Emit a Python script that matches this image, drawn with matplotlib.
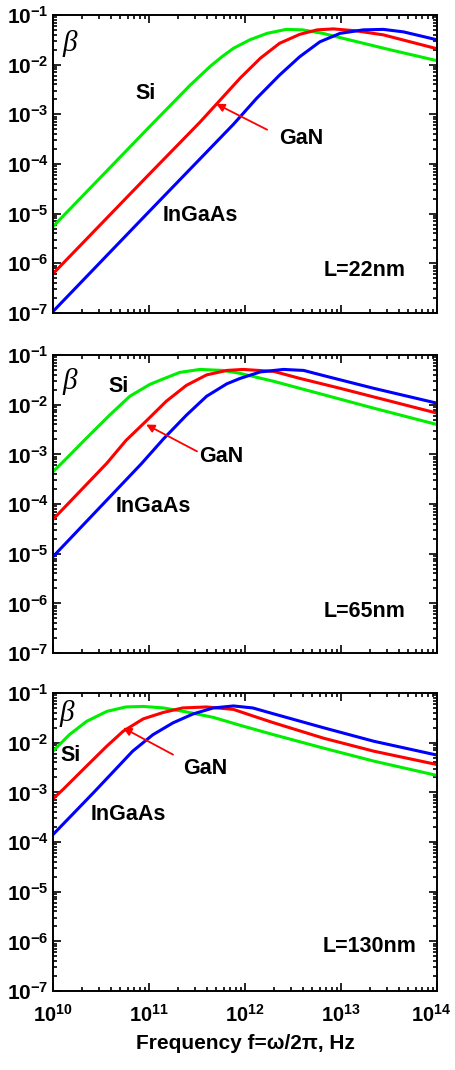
import numpy as np
import matplotlib
matplotlib.use("Agg")
import matplotlib.pyplot as plt
from matplotlib.ticker import LogLocator, FuncFormatter, NullFormatter
from matplotlib.transforms import ScaledTranslation

plt.rcParams['font.family'] = ['Liberation Sans', 'DejaVu Sans']
plt.rcParams['font.weight'] = 'bold'
plt.rcParams['mathtext.fontset'] = 'custom'
plt.rcParams['mathtext.rm'] = 'Liberation Sans:bold'
plt.rcParams['mathtext.bf'] = 'Liberation Sans:bold'
plt.rcParams['mathtext.it'] = 'Liberation Sans:bold:italic'

# decades shown on the axes
x_decades = [10, 11, 12, 13, 14]
y_decades = [-7, -6, -5, -4, -3, -2, -1]

# curves as log10(f), log10(beta)
# L = 22 nm
si22_lf = [10.0, 10.49, 10.97, 11.43, 11.64, 11.76, 11.88, 12.05, 12.23, 12.43, 12.60, 12.81, 13.02, 13.51, 14.0]
si22_lb = [-5.26, -4.28, -3.32, -2.41, -2.03, -1.84, -1.67, -1.50, -1.37, -1.29, -1.30, -1.37, -1.47, -1.70, -1.92]
gan22_lf = [10.0, 10.97, 11.53, 11.70, 11.95, 12.16, 12.36, 12.57, 12.75, 12.92, 13.16, 13.44, 14.0]
gan22_lb = [-6.21, -4.27, -3.16, -2.80, -2.27, -1.87, -1.57, -1.39, -1.30, -1.28, -1.32, -1.40, -1.68]
ing22_lf = [10.0, 10.97, 11.88, 12.12, 12.36, 12.57, 12.78, 12.99, 13.23, 13.44, 13.65, 14.0]
ing22_lb = [-6.97, -5.02, -3.20, -2.68, -2.21, -1.84, -1.54, -1.37, -1.30, -1.29, -1.34, -1.50]

# L = 65 nm
si65_lf = [10.0, 10.10, 10.35, 10.59, 10.80, 11.01, 11.15, 11.32, 11.53, 11.77, 11.95, 12.30, 12.82, 13.34, 14.0]
si65_lb = [-3.35, -3.16, -2.67, -2.21, -1.83, -1.59, -1.48, -1.35, -1.29, -1.31, -1.37, -1.53, -1.80, -2.07, -2.40]
gan65_lf = [10.0, 10.56, 10.76, 10.97, 11.18, 11.39, 11.60, 11.81, 11.98, 12.30, 12.57, 12.99, 14.0]
gan65_lb = [-4.31, -3.18, -2.72, -2.33, -1.93, -1.61, -1.40, -1.31, -1.29, -1.33, -1.47, -1.67, -2.17]
ing65_lf = [10.0, 10.92, 11.15, 11.39, 11.60, 11.81, 11.95, 12.16, 12.40, 12.61, 12.85, 13.34, 14.0]
ing65_lb = [-5.06, -3.19, -2.69, -2.21, -1.83, -1.58, -1.47, -1.34, -1.29, -1.31, -1.43, -1.67, -1.97]

# L = 130 nm
si130_lf = [10.0, 10.17, 10.35, 10.56, 10.76, 10.94, 11.15, 11.39, 11.67, 11.95, 12.30, 12.82, 13.34, 14.0]
si130_lb = [-2.17, -1.84, -1.57, -1.37, -1.28, -1.27, -1.30, -1.38, -1.49, -1.65, -1.84, -2.11, -2.37, -2.66]
gan130_lf = [10.0, 10.10, 10.35, 10.56, 10.73, 10.94, 11.15, 11.35, 11.60, 11.88, 12.08, 12.30, 12.82, 13.34, 14.0]
gan130_lb = [-3.13, -2.95, -2.47, -2.07, -1.77, -1.52, -1.39, -1.30, -1.28, -1.33, -1.46, -1.60, -1.91, -2.17, -2.44]
ing130_lf = [10.0, 10.42, 10.63, 10.83, 11.04, 11.25, 11.46, 11.67, 11.88, 12.08, 12.30, 12.82, 13.34, 14.0]
ing130_lb = [-3.85, -3.01, -2.58, -2.17, -1.84, -1.60, -1.42, -1.30, -1.26, -1.30, -1.42, -1.70, -1.97, -2.25]

panels = [
    dict(name="L=22nm", si=(si22_lf, si22_lb), gan=(gan22_lf, gan22_lb), ing=(ing22_lf, ing22_lb),
         si_txt=(10.96, -2.58), gan_txt=(12.59, -3.48), ing_txt=(11.53, -5.03),
         arr_tail=(12.23, -3.31), arr_head=(11.70, -2.79), l_txt=(13.25, -6.15), beta=(10.17, -1.57)),
    dict(name="L=65nm", si=(si65_lf, si65_lb), gan=(gan65_lf, gan65_lb), ing=(ing65_lf, ing65_lb),
         si_txt=(10.68, -1.63), gan_txt=(11.75, -3.04), ing_txt=(11.04, -4.04),
         arr_tail=(11.50, -2.94), arr_head=(10.97, -2.40), l_txt=(13.25, -6.16), beta=(10.17, -1.53)),
    dict(name="L=130nm", si=(si130_lf, si130_lb), gan=(gan130_lf, gan130_lb), ing=(ing130_lf, ing130_lb),
         si_txt=(10.18, -2.25), gan_txt=(11.59, -2.52), ing_txt=(10.78, -3.45),
         arr_tail=(11.25, -2.24), arr_head=(10.73, -1.70), l_txt=(13.30, -6.11), beta=(10.14, -1.42)),
]

fig = plt.figure(figsize=(4.55, 10.7), dpi=100)
bottoms = [0.7075, 0.3897, 0.0738]


def p10(v):
    return 10.0 ** np.asarray(v, dtype=float)


def expfmt(v, pos):
    return r'$\mathbf{10^{%d}}$' % int(round(np.log10(v)))


for i, p in enumerate(panels):
    ax = fig.add_axes([0.1165, bottoms[i], 0.844, 0.2785])
    for key, col in (("si", "#00ee00"), ("gan", "#ff0000"), ("ing", "#0000ff")):
        lf, lb = p[key]
        ax.plot(p10(lf), p10(lb), color=col, lw=2.2, solid_joinstyle='round')
    ax.set_xscale('log')
    ax.set_yscale('log')
    ax.set_xticks(p10(x_decades))
    ax.set_yticks(p10(y_decades))
    ax.set_xlim(1e10, 1e14)
    ax.set_ylim(1e-7, 1e-1)
    ax.xaxis.set_minor_locator(LogLocator(base=10, subs=np.arange(2, 10), numticks=20))
    ax.yaxis.set_minor_locator(LogLocator(base=10, subs=np.arange(2, 10), numticks=20))
    ax.yaxis.set_major_formatter(FuncFormatter(expfmt))
    ax.xaxis.set_minor_formatter(NullFormatter())
    ax.yaxis.set_minor_formatter(NullFormatter())
    if i == 2:
        ax.xaxis.set_major_formatter(FuncFormatter(expfmt))
    else:
        ax.xaxis.set_major_formatter(NullFormatter())
    ax.tick_params(which='both', direction='in', top=True, right=True, width=1.2, labelsize=15)
    ax.tick_params(which='major', length=6, pad=3)
    ax.tick_params(axis='x', which='major', pad=9, labelsize=14.5)
    ax.tick_params(which='minor', length=3)
    for s in ax.spines.values():
        s.set_linewidth(1.4)

    if i == 2:
        # last x label sits right on the figure edge, pull it in a bit
        last = ax.xaxis.get_major_ticks()[-1]
        last.label1.set_transform(last.label1.get_transform()
                                  + ScaledTranslation(-6 / 100, 0, fig.dpi_scale_trans))

    ax.text(p10(p["si_txt"][0]), p10(p["si_txt"][1]), "Si", fontsize=15.5, fontweight='bold',
            ha='center', va='center')
    ax.text(p10(p["gan_txt"][0]), p10(p["gan_txt"][1]), "GaN", fontsize=15.5, fontweight='bold',
            ha='center', va='center')
    ax.text(p10(p["ing_txt"][0]), p10(p["ing_txt"][1]), "InGaAs", fontsize=15.5, fontweight='bold',
            ha='center', va='center')
    ax.text(p10(p["l_txt"][0]), p10(p["l_txt"][1]), p["name"], fontsize=15.5, fontweight='bold',
            ha='center', va='center')
    ax.text(p10(p["beta"][0]), p10(p["beta"][1]), "\u03b2", fontsize=21, style='italic',
            family='Liberation Serif', fontweight='normal', ha='center', va='center')
    ax.annotate("", xy=(p10(p["arr_head"][0]), p10(p["arr_head"][1])),
                xytext=(p10(p["arr_tail"][0]), p10(p["arr_tail"][1])),
                arrowprops=dict(arrowstyle='-|>', color='red', lw=1.3, mutation_scale=12,
                                shrinkA=0, shrinkB=0))

fig.text(0.54, 0.025, "Frequency f=\u03c9/2\u03c0, Hz", ha='center', va='center',
         fontsize=15, fontweight='bold')

fig.savefig("out.png", dpi=100)
